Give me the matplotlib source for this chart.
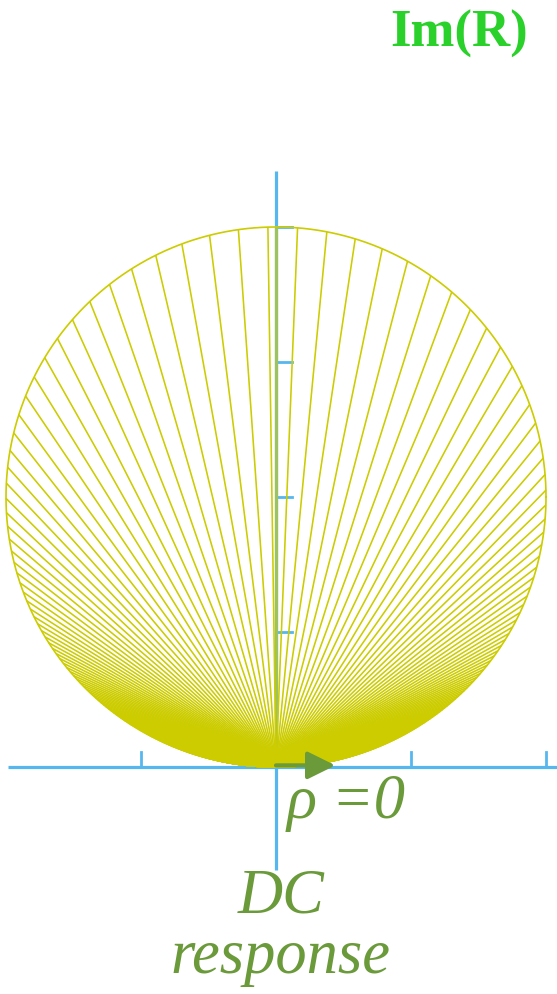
#!/usr/bin/env python3
"""
Lugar geometrico de R(w) = j / (1 + j w) en el plano complejo:
cuerdas desde el origen (respuesta en continua, rho = 0) hasta cada punto
del circulo de diametro unidad sobre el eje imaginario.

Salida: out.png
"""

import matplotlib

matplotlib.use("Agg")

import matplotlib.pyplot as plt
import numpy as np
from matplotlib.collections import LineCollection
from matplotlib.patches import FancyArrowPatch

DPI = 100
W_PX, H_PX = 557, 995

C_AXIS = "#55b7ee"
C_LOCUS = "#cccc00"
C_TEXT = "#6a9a3a"
C_TITLE = "#2bd12b"

# barrido de frecuencia normalizada (w * tau)
W_STEP = 0.055
W_MAX = 40.0
omega = np.arange(-W_MAX, W_MAX + W_STEP / 2, W_STEP)

# marcas de los ejes
x_ticks = [-0.25, 0.25, 0.5]
y_ticks = [0.25, 0.5, 0.75, 1.0]

# escala: una unidad = 540 px, origen en (276, 768) px
SCALE = 540.0
X0_PX, Y0_PX = 276.0, 768.0


def response(w):
    return 1j / (1 + 1j * w)


def draw_axes(ax):
    ax.plot([-0.496, 0.53], [0, 0], color=C_AXIS, lw=2.3, solid_capstyle="butt", zorder=1)
    ax.plot([0, 0], [-0.19, 1.104], color=C_AXIS, lw=2.3, solid_capstyle="butt", zorder=1)
    for xt in x_ticks:
        ax.plot([xt, xt], [0, 0.028], color=C_AXIS, lw=2.0, zorder=1)
    for yt in y_ticks:
        ax.plot([0, 0.03], [yt, yt], color=C_AXIS, lw=2.0, zorder=1)


def draw_locus(ax):
    r = response(omega)
    segs = [[(0.0, 0.0), (z.real, z.imag)] for z in r]
    lc = LineCollection(segs, colors=C_LOCUS, linewidths=1.15, zorder=2)
    ax.add_collection(lc)

    # cuerda de w = 0 sobre el eje imaginario
    r0 = response(0.0)
    ax.plot([0, r0.real], [0, r0.imag], color=C_LOCUS, lw=2.4, alpha=0.6,
            solid_capstyle="butt", zorder=3)

    th = np.linspace(0, 2 * np.pi, 720)
    ax.plot(0.5 * np.cos(th), 0.5 + 0.5 * np.sin(th), color=C_LOCUS, lw=1.2, zorder=2)


def main():
    fig = plt.figure(figsize=(W_PX / DPI, H_PX / DPI), dpi=DPI)
    fig.patch.set_facecolor("white")
    ax = fig.add_axes([0, 0, 1, 1])
    ax.set_facecolor("white")

    draw_axes(ax)
    draw_locus(ax)

    arrow = FancyArrowPatch(
        (0.0, 0.003),
        (0.11, 0.003),
        arrowstyle="-|>,head_length=0.85,head_width=0.42",
        mutation_scale=20,
        linewidth=3.0,
        color=C_TEXT,
        shrinkA=0,
        shrinkB=0,
        zorder=4,
    )
    ax.add_patch(arrow)

    serif = ["Liberation Serif", "DejaVu Serif"]
    ax.text(0.02, -0.0926, "ρ =0", ha="left", va="baseline", fontsize=45,
            fontstyle="italic", family=serif, color=C_TEXT, zorder=5)
    ax.text(0.0093, -0.2667, "DC", ha="center", va="baseline", fontsize=45,
            fontstyle="italic", family=serif, color=C_TEXT, zorder=5)
    ax.text(0.0074, -0.3796, "response", ha="center", va="baseline", fontsize=45,
            fontstyle="italic", family=serif, color=C_TEXT, zorder=5)
    ax.text(0.211, 1.335, "Im(R)", ha="left", va="baseline", fontsize=38,
            fontweight="bold", family=serif, color=C_TITLE, zorder=5)

    ax.set_xlim(-X0_PX / SCALE, (W_PX - X0_PX) / SCALE)
    ax.set_ylim((Y0_PX - H_PX) / SCALE, Y0_PX / SCALE)
    ax.set_aspect("equal", adjustable="box")
    ax.axis("off")

    fig.savefig("out.png", dpi=DPI, facecolor=fig.get_facecolor())
    plt.close(fig)


if __name__ == "__main__":
    main()
